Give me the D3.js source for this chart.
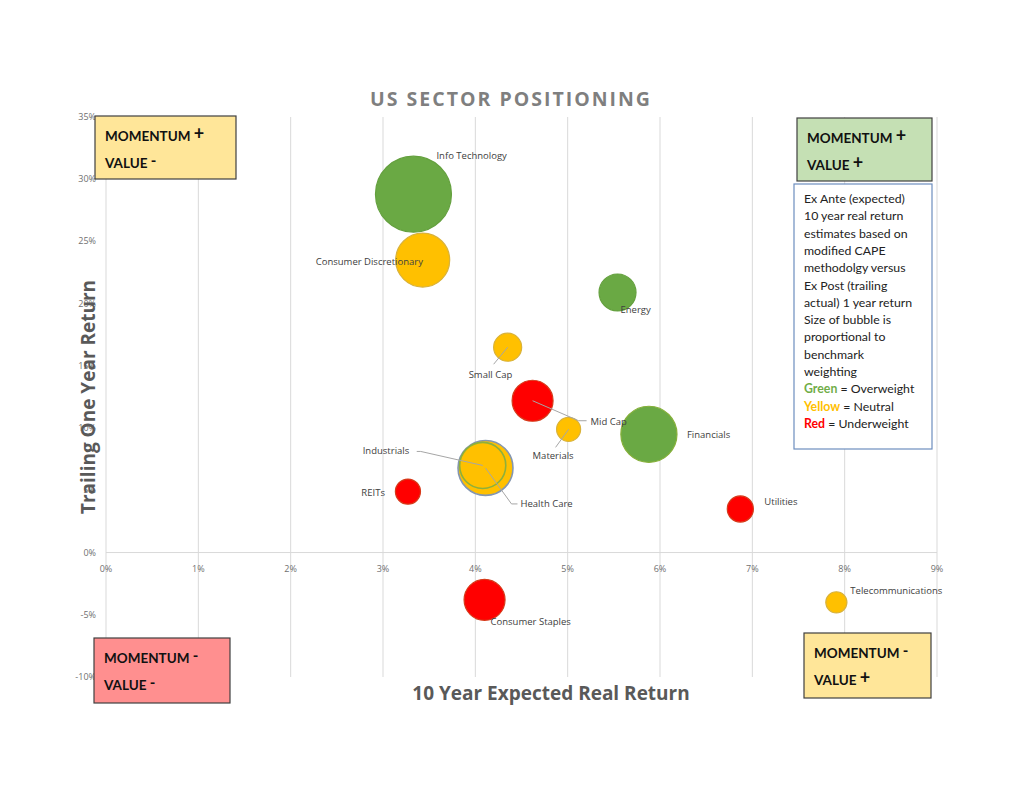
<!DOCTYPE html>
<html>
  <head>
    <meta charset="utf-8">
    <title>US Sector Positioning</title>
    <script type="text/javascript" src="https://cdn.jsdelivr.net/npm/d3@7"></script>
    <style type="text/css">
        body { margin: 0; background: #fff; }
        .grid line { stroke: #d9d9d9; stroke-width: 1; }
        .tick-label { font-family: "Open Sans", sans-serif; font-size: 9px; fill: #707070; }
        .bubble-label { font-family: "Open Sans", sans-serif; font-size: 9.5px; fill: #404040; }
        .leader { fill: none; stroke: #a6a6a6; stroke-width: 1; }
        .quad text { font-family: Lato, sans-serif; font-weight: bold; font-size: 13.5px; fill: #111; }
        .note text { font-family: Lato, sans-serif; font-size: 12.3px; fill: #222; }
    </style>
  </head>
  <body>
    <div id="chart-container"></div>
    <script type="text/javascript">
      // sectors and their values
      var sectors = ["Info Technology", "Consumer Discretionary", "Energy", "Small Cap", "Mid Cap",
                     "Materials", "Financials", "Health Care", "Industrials", "REITs",
                     "Utilities", "Consumer Staples", "Telecommunications"];
      var expectedReturn = [3.33, 3.43, 5.54, 4.35, 4.62, 5.01, 5.88, 4.11, 4.08, 3.27, 6.87, 4.10, 7.91];
      var trailingReturn = [28.8, 23.5, 20.9, 16.5, 12.2, 9.9, 9.5, 6.8, 7.0, 4.9, 3.5, -3.8, -4.0];
      var benchmarkWeight = [22, 11.1, 5.2, 3.0, 6.4, 2.2, 12, 11.5, 8.1, 2.4, 2.6, 6.4, 1.7];
      var positioning = ["Overweight", "Neutral", "Overweight", "Neutral", "Underweight",
                         "Neutral", "Overweight", "Neutral", "Neutral", "Underweight",
                         "Underweight", "Underweight", "Neutral"];

      var xTicks = [0, 1, 2, 3, 4, 5, 6, 7, 8, 9];
      var yTicks = [-10, -5, 0, 5, 10, 15, 20, 25, 30, 35];

      var noteLines = ["Ex Ante (expected)", "10 year real return", "estimates based on",
                       "modified CAPE", "methodolgy versus", "Ex Post (trailing",
                       "actual) 1 year return", "Size of bubble is", "proportional to",
                       "benchmark", "weighting"];

      var w = 1024, h = 791;

      var fills = { Overweight: "#6aa944", Neutral: "#ffc000", Underweight: "#ff0000" };
      var strokes = { Overweight: "#64a03e", Neutral: "#d9b23a", Underweight: "#d63a1a" };

      // label placement, offsets from the bubble centre (baseline), and leader lines
      var labelPos = {
          "Info Technology": { dx: 23, dy: -35 },
          "Consumer Discretionary": { dx: -107, dy: 5 },
          "Energy": { dx: 3, dy: 21 },
          "Small Cap": { dx: -39, dy: 31, leader: [[0, 0], [-14, 17]] },
          "Mid Cap": { dx: 58, dy: 24, leader: [[0, 0], [46, 20], [54, 20]] },
          "Materials": { dx: -36, dy: 30, leader: [[0, 0], [-13, 18]] },
          "Financials": { dx: 38, dy: 4 },
          "Health Care": { dx: 35, dy: 39, leader: [[0, 0], [26, 36], [32, 36]] },
          "Industrials": { dx: -120, dy: -11, leader: [[0, 0], [-62, -14], [-66, -14]] },
          "REITs": { dx: -23, dy: 4, anchor: "end" },
          "Utilities": { dx: 24, dy: -4 },
          "Consumer Staples": { dx: 6, dy: 25 },
          "Telecommunications": { dx: 14, dy: -8 }
      };

      var data = sectors.map(function(s, i) {
          return { name: s, x: expectedReturn[i], y: trailingReturn[i],
                   weight: benchmarkWeight[i], pos: positioning[i] };
      });

      var x = d3.scaleLinear().domain([0, 9]).range([106, 937]);
      var y = d3.scaleLinear().domain([-10, 35]).range([677, 117]);
      var r = d3.scaleSqrt().domain([0, 22]).range([0, 38]);

      var svg = d3.select("#chart-container").append("svg")
          .attr("width", w)
          .attr("height", h);

      // vertical gridlines
      svg.append("g").attr("class", "grid")
          .selectAll("line").data(xTicks).enter().append("line")
          .attr("x1", function(d) { return x(d); }).attr("x2", function(d) { return x(d); })
          .attr("y1", y(35)).attr("y2", y(-10));

      // zero line
      svg.append("line")
          .attr("x1", x(0)).attr("x2", x(9))
          .attr("y1", y(0)).attr("y2", y(0))
          .attr("stroke", "#d9d9d9");

      // tick labels
      svg.selectAll(".ytick").data(yTicks).enter().append("text")
          .attr("class", "tick-label ytick")
          .attr("x", x(0) - 10).attr("y", function(d) { return y(d) + 3; })
          .attr("text-anchor", "end")
          .text(function(d) { return d + "%"; });

      svg.selectAll(".xtick").data(xTicks).enter().append("text")
          .attr("class", "tick-label xtick")
          .attr("x", function(d) { return x(d); }).attr("y", y(0) + 19)
          .attr("text-anchor", "middle")
          .text(function(d) { return d + "%"; });

      // titles
      svg.append("text")
          .attr("x", 511).attr("y", 106)
          .attr("text-anchor", "middle")
          .attr("font-family", "Open Sans, sans-serif").attr("font-weight", "bold")
          .attr("font-size", 19.5).attr("letter-spacing", 2).attr("fill", "#7f7f7f")
          .text("US SECTOR POSITIONING");

      svg.append("text")
          .attr("x", 551).attr("y", 700)
          .attr("text-anchor", "middle")
          .attr("font-family", "Open Sans, sans-serif").attr("font-weight", "bold")
          .attr("font-size", 19).attr("fill", "#595959")
          .text("10 Year Expected Real Return");

      svg.append("text")
          .attr("transform", "translate(95,397) rotate(-90)")
          .attr("text-anchor", "middle")
          .attr("font-family", "Open Sans, sans-serif").attr("font-weight", "bold")
          .attr("font-size", 19).attr("fill", "#595959")
          .text("Trailing One Year  Return");

      // leader lines
      var line = d3.line();
      function leaderPath(d) {
          var cx = x(d.x), cy = y(d.y);
          return line(labelPos[d.name].leader.map(function(p) { return [cx + p[0], cy + p[1]]; }));
      }
      var withLeader = data.filter(function(d) { return labelPos[d.name].leader; });

      // bubbles (Industrials drawn as a ring on top of Health Care)
      var order = data.slice().sort(function(a, b) { return b.weight - a.weight; });
      svg.selectAll(".bubble").data(order).enter().append("circle")
          .attr("class", "bubble")
          .attr("cx", function(d) { return x(d.x); })
          .attr("cy", function(d) { return y(d.y); })
          .attr("r", function(d) { return r(d.weight); })
          .attr("fill", function(d) { return fills[d.pos]; })
          .attr("fill-opacity", function(d) { return d.name === "Industrials" ? 0 : 1; })
          .attr("stroke", function(d) {
              if (d.name === "Health Care") return "#8496b0";
              if (d.name === "Industrials") return "#8db03c";
              if (d.name === "Financials") return "#86b03a";
              return strokes[d.pos];
          })
          .attr("stroke-width", function(d) { return d.name === "Industrials" || d.name === "Health Care" ? 1.6 : 1.2; });

      // leader lines, over the bubbles as in the picture
      svg.selectAll(".leader").data(withLeader).enter().append("path")
          .attr("class", "leader")
          .attr("d", leaderPath);

      // bubble labels
      svg.selectAll(".bubble-label").data(data).enter().append("text")
          .attr("class", "bubble-label")
          .attr("x", function(d) { return x(d.x) + labelPos[d.name].dx; })
          .attr("y", function(d) { return y(d.y) + labelPos[d.name].dy; })
          .attr("text-anchor", function(d) { return labelPos[d.name].anchor || "start"; })
          .text(function(d) { return d.name; });

      // quadrant boxes
      var quads = [
          { x: 95, y: 116, w: 141, h: 63, fill: "#ffe699", m: "+", v: "-" },
          { x: 797, y: 118, w: 135, h: 63, fill: "#c5e0b4", m: "+", v: "+" },
          { x: 94, y: 638, w: 136, h: 65, fill: "#ff8f8f", m: "-", v: "-" },
          { x: 804, y: 633, w: 127, h: 65, fill: "#ffe699", m: "-", v: "+" }
      ];
      function sign(t, s) {
          t.append("tspan").text(" ");
          t.append("tspan")
              .attr("font-size", function(d) { return d[s] === "+" ? 18 : 15; })
              .attr("dy", function(d) { return d[s] === "+" ? -1 : -2; })
              .text(function(d) { return d[s] === "+" ? "+" : "-"; });
      }
      var q = svg.selectAll(".quad").data(quads).enter().append("g").attr("class", "quad");
      q.append("rect")
          .attr("x", function(d) { return d.x; }).attr("y", function(d) { return d.y; })
          .attr("width", function(d) { return d.w; }).attr("height", function(d) { return d.h; })
          .attr("fill", function(d) { return d.fill; })
          .attr("stroke", "#404040").attr("stroke-width", 1.2);
      var mt = q.append("text")
          .attr("x", function(d) { return d.x + 10; }).attr("y", function(d) { return d.y + 25; });
      mt.append("tspan").text("MOMENTUM");
      sign(mt, "m");
      var vt = q.append("text")
          .attr("x", function(d) { return d.x + 10; }).attr("y", function(d) { return d.y + 52; });
      vt.append("tspan").text("VALUE");
      sign(vt, "v");

      // note box
      var note = svg.append("g").attr("class", "note");
      note.append("rect")
          .attr("x", 794).attr("y", 184).attr("width", 138).attr("height", 265)
          .attr("fill", "#fff").attr("stroke", "#6d8ebf").attr("stroke-width", 1.2);
      note.selectAll(".nl").data(noteLines).enter().append("text")
          .attr("x", 804).attr("y", function(d, i) { return 203 + i * 17.3; })
          .text(function(d) { return d; });
      var legendRows = [["Green", "#70ad47", "Overweight"], ["Yellow", "#ffc000", "Neutral"], ["Red", "#ff0000", "Underweight"]];
      var lt = note.selectAll(".lg").data(legendRows).enter().append("text")
          .attr("x", 804).attr("y", function(d, i) { return 203 + (noteLines.length + i) * 17.3; });
      lt.append("tspan").attr("fill", function(d) { return d[1]; }).attr("font-weight", "bold").text(function(d) { return d[0]; });
      lt.append("tspan").text(function(d) { return " = " + d[2]; });
    </script>
  </body>
</html>
